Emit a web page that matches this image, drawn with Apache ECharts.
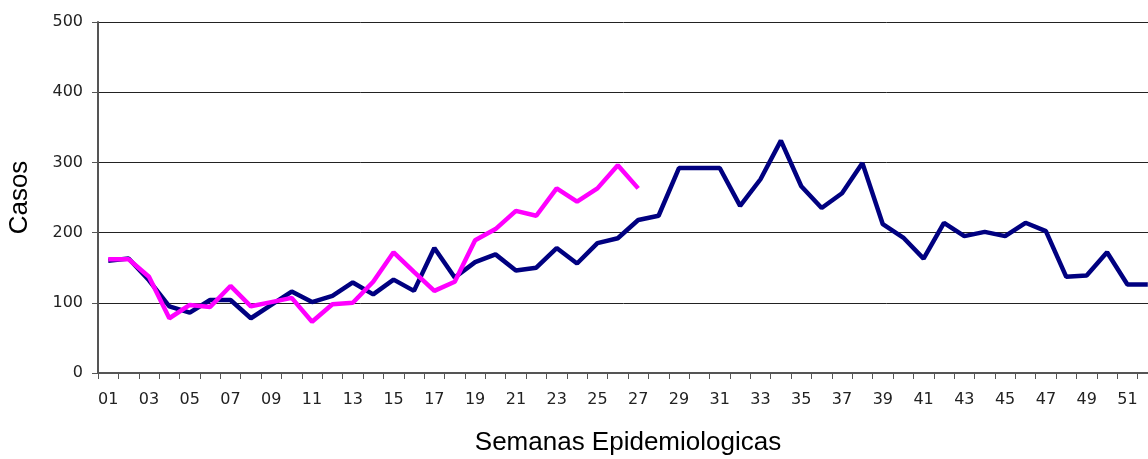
<!DOCTYPE html>
<html>
<head>
<meta charset="utf-8">
<script src="https://cdn.jsdelivr.net/npm/echarts@6/dist/echarts.min.js"></script>
<style>
  html, body { margin: 0; padding: 0; background: #fff; }
  #chart { width: 1148px; height: 459px; }
</style>
</head>
<body>
<div id="chart"></div>
<script>
  // semanas 01..52
  var semanas = [];
  for (var i = 1; i <= 52; i++) semanas.push(i < 10 ? '0' + i : '' + i);

  // casos por semana (azul: año anterior, magenta: año actual hasta sem. 27)
  var casosAzul = [160, 163, 132, 95, 86, 104, 104, 78, 97, 116, 101, 110, 129, 112, 133, 117,
    178, 136, 158, 169, 146, 150, 178, 156, 185, 192, 218, 224, 292, 292, 292, 238, 276, 331,
    266, 235, 256, 299, 212, 193, 163, 214, 195, 201, 195, 214, 202, 137, 139, 172, 126, 126];
  var casosMagenta = [162, 162, 137, 78, 97, 94, 124, 95, 101, 107, 73, 98, 100, 130, 172, 144,
    117, 130, 189, 205, 231, 224, 263, 244, 263, 296, 263];

  var chart = echarts.init(document.getElementById('chart'))
  chart.setOption({
    animation: false,
    grid: {
      left: 98,
      right: -10,
      top: 22,
      bottom: 86,
      outerBoundsMode: 'none'
    },
    xAxis: {
      type: 'category',
      data: semanas,
      boundaryGap: true,
      name: 'Semanas Epidemiologicas',
      nameLocation: 'middle',
      nameGap: 57,
      nameTextStyle: { fontFamily: 'Liberation Sans', fontSize: 26, color: '#000' },
      axisLine: { lineStyle: { color: '#555', width: 2 } },
      axisTick: { show: true, interval: 0, length: 6, lineStyle: { color: '#555', width: 1 } },
      axisLabel: { interval: 1, margin: 19, fontFamily: 'DejaVu Sans', fontSize: 16, color: '#222' },
      splitLine: { show: false }
    },
    yAxis: {
      type: 'value',
      min: 0,
      max: 500,
      interval: 100,
      name: 'Casos',
      nameLocation: 'middle',
      nameGap: 65,
      nameTextStyle: { fontFamily: 'Liberation Sans', fontSize: 26, color: '#000' },
      axisLine: { show: true, lineStyle: { color: '#555', width: 2 } },
      axisTick: { show: true, length: 6, lineStyle: { color: '#555', width: 1 } },
      axisLabel: { margin: 15, fontFamily: 'DejaVu Sans', fontSize: 16, color: '#222' },
      splitLine: { show: true, lineStyle: { color: '#222', width: 1 } }
    },
    series: [
      {
        name: 'azul',
        type: 'line',
        data: casosAzul,
        showSymbol: false,
        lineStyle: { color: '#000080', width: 4.5 },
        itemStyle: { color: '#000080' }
      },
      {
        name: 'magenta',
        type: 'line',
        data: casosMagenta,
        showSymbol: false,
        lineStyle: { color: '#ff00ff', width: 4.5 },
        itemStyle: { color: '#ff00ff' }
      }
    ]
  })
</script>
</body>
</html>
